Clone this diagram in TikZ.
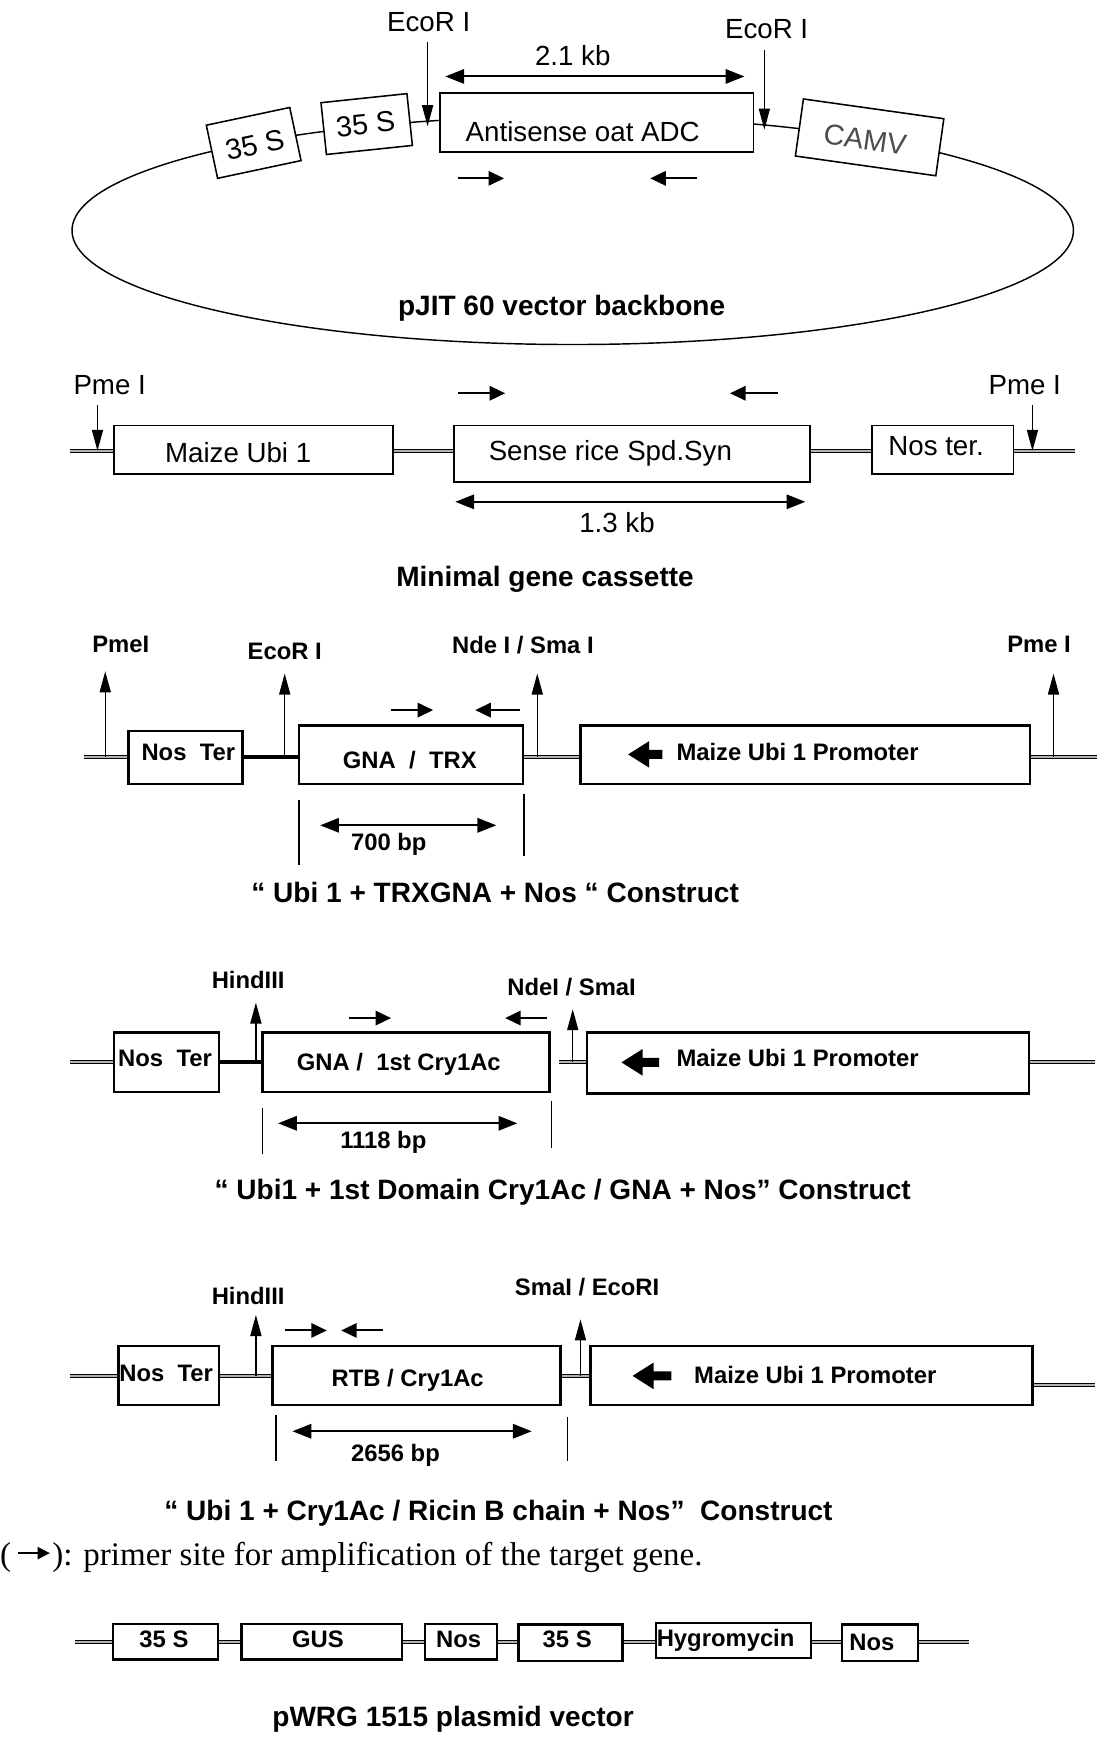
\documentclass[tikz,border=0pt]{standalone}
\usepackage{fontspec}
\setmainfont{Liberation Sans}
\newfontfamily\seriffont{Liberation Serif}
\usetikzlibrary{arrows.meta}
\begin{document}
\begin{tikzpicture}[x=1pt,y=-1pt,
  rtxt/.style={font=\fontsize{25}{28}\selectfont, inner sep=0},
  btxt/.style={font=\bfseries\fontsize{21.5}{24}\selectfont, inner sep=0},
  ttl/.style={font=\bfseries\fontsize{25.3}{28}\selectfont, inner sep=0},
  thinbox/.style={draw, line width=1.4pt, fill=white, inner sep=0},
  boldbox/.style={draw, line width=2pt, fill=white, inner sep=0},
  dna/.style={draw, line width=0.8pt, double=black!30, double distance=1.8pt},
  thickdna/.style={draw, line width=3.5pt},
  site/.style={line width=1.3pt, -{Triangle[length=19pt,width=10pt]}},
  primer/.style={line width=1.8pt, -{Triangle[length=14pt,width=13pt]}},
  span/.style={line width=1.8pt, {Triangle[length=17pt,width=13pt]}-{Triangle[length=17pt,width=13pt]}},
  bar/.style={line width=1.2pt},
]
\useasboundingbox (0,0) rectangle (991,1568);

% ---------------- Section 1: pJIT 60 ----------------
\draw[line width=1.3pt] (517,208) ellipse [x radius=452pt, y radius=103pt];
\node[thinbox, minimum width=77pt, minimum height=49pt, rotate=12] (s35a) at (229,129) {};
\node[rotate=12, font=\fontsize{26}{28}\selectfont, inner sep=0] (s35at) at (230,131) {35 S};
\node[thinbox, minimum width=78pt, minimum height=47pt, rotate=6] (s35b) at (331,112) {};
\node[rotate=6, font=\fontsize{26}{28}\selectfont, inner sep=0] (s35bt) at (330,112) {35 S};
\node[thinbox, minimum width=283pt, minimum height=53pt] (adc) at (538.5,110.5) {};
\node[rtxt] (adct) at (526,119) {Antisense oat ADC};
\node[thinbox, minimum width=128pt, minimum height=52pt, rotate=-8] (camv) at (785,124) {};
\node[rotate=-8, font=\fontsize{26}{28}\selectfont, inner sep=0, text=black!70] (camvt) at (781,126) {CAMV};
\node[rtxt] (eco1) at (387,20) {EcoR I};
\node[rtxt] (eco2) at (692,26) {EcoR I};
\coordinate (eco1a) at (386,38); \coordinate (eco1b) at (386,114);
\coordinate (eco2a) at (690,45); \coordinate (eco2b) at (690,117);
\draw[site] (eco1a) -- (eco1b);
\draw[site] (eco2a) -- (eco2b);
\node[rtxt] (kb21) at (517,50) {2.1 kb};
\coordinate (k21a) at (402,69); \coordinate (k21b) at (672,69);
\draw[span] (k21a) -- (k21b);
\draw[primer] (413,161) -- (455,161);
\draw[primer] (629,161) -- (587,161);
\node[ttl] (t1) at (507,278) {pJIT 60 vector backbone};

% ---------------- Section 2: minimal gene cassette ----------------
\coordinate (l2) at (63,407); \coordinate (r2) at (970,407);
\node[thinbox, minimum width=252pt, minimum height=44pt] (ubi2) at (229,406) {};
\node[thinbox, minimum width=321pt, minimum height=51pt] (spd2) at (570.5,409.5) {};
\node[thinbox, minimum width=128pt, minimum height=44pt] (nos2) at (851,406) {};
\draw[dna] (l2) -- (l2 -| ubi2.west);
\draw[dna] (ubi2.east |- l2) -- (spd2.west |- l2);
\draw[dna] (spd2.east |- l2) -- (nos2.west |- l2);
\draw[dna] (nos2.east |- l2) -- (r2);
\node[rtxt] (ubi2t) at (215,409) {Maize Ubi 1};
\node[rtxt] (spd2t) at (551,409) {Sense rice Spd.Syn};
\node[rtxt] (nos2t) at (845,403) {Nos ter.};
\node[rtxt] (pme2a) at (99,348) {Pme I};
\node[rtxt] (pme2b) at (925,348) {Pme I};
\coordinate (pm2a1) at (88,366); \coordinate (pm2a2) at (88,407);
\coordinate (pm2b1) at (932,366); \coordinate (pm2b2) at (932,407);
\draw[site] (pm2a1) -- (pm2a2);
\draw[site] (pm2b1) -- (pm2b2);
\draw[primer] (413,355) -- (456,355);
\draw[primer] (702,355) -- (659,355);
\coordinate (k13a) at (411,453); \coordinate (k13b) at (727,453);
\draw[span] (k13a) -- (k13b);
\node[rtxt] (kb13) at (557,472) {1.3 kb};
\node[ttl] (t2) at (492,523) {Minimal gene cassette};

% ---------------- Section 3: Ubi 1 + TRXGNA + Nos ----------------
\coordinate (l3) at (76,683); \coordinate (r3) at (990,683);
\node[boldbox, minimum width=103pt, minimum height=48pt] (nos3) at (167.5,684) {};
\node[boldbox, minimum width=202pt, minimum height=53pt] (gna3) at (371,681.5) {};
\node[boldbox, minimum width=406pt, minimum height=53pt] (ubi3) at (727,681.5) {};
\draw[dna] (l3) -- (l3 -| nos3.west);
\draw[thickdna] (nos3.east |- l3) -- (gna3.west |- l3);
\draw[dna] (gna3.east |- l3) -- (ubi3.west |- l3);
\draw[dna] (ubi3.east |- l3) -- (r3);
\node[btxt] (nos3t) at (170,679) {Nos\hspace{0.56em}Ter};
\node[btxt] (gna3t) at (370,686) {GNA\hspace{0.56em}/\hspace{0.56em}TRX};
\node[btxt] (ubi3t) at (720,679) {Maize Ubi 1 Promoter};
\fill (567,681) -- (586,669) -- (586,677) -- (598,677) -- (598,685) -- (586,685) -- (586,693) -- cycle;
\node[btxt] (pme3a) at (109,582) {PmeI};
\node[btxt] (eco3) at (257,588) {EcoR I};
\node[btxt] (nde3) at (472,582) {Nde I / Sma I};
\node[btxt] (pme3b) at (938,582) {Pme I};
\coordinate (u3a) at (95,683); \coordinate (v3a) at (95,606);
\coordinate (u3b) at (257,683); \coordinate (v3b) at (257,608);
\coordinate (u3c) at (485,683); \coordinate (v3c) at (485,608);
\coordinate (u3d) at (951,683); \coordinate (v3d) at (951,608);
\draw[site] (u3a) -- (v3a);
\draw[site] (u3b) -- (v3b);
\draw[site] (u3c) -- (v3c);
\draw[site] (u3d) -- (v3d);
\draw[primer] (353,641) -- (391,641);
\draw[primer] (469,641) -- (429,641);
\draw[bar] (270,722) -- (270,781);
\draw[bar] (473,717) -- (473,773);
\coordinate (k7a) at (289,745); \coordinate (k7b) at (448,745);
\draw[span] (k7a) -- (k7b);
\node[btxt] (bp700) at (351,762) {700 bp};
\node[ttl] (t3) at (447,806) {“ Ubi 1 + TRXGNA + Nos “ Construct};

% ---------------- Section 4: Ubi1 + 1st Domain Cry1Ac / GNA + Nos ----------------
\coordinate (l4) at (63,959); \coordinate (r4) at (988,959);
\node[boldbox, minimum width=95pt, minimum height=54pt] (nos4) at (150.5,959) {};
\node[boldbox, minimum width=259pt, minimum height=54pt] (gna4) at (366.5,959) {};
\node[boldbox, minimum width=399pt, minimum height=55pt] (ubi4) at (729.5,959.5) {};
\draw[dna] (l4) -- (l4 -| nos4.west);
\draw[thickdna] (nos4.east |- l4) -- (gna4.west |- l4);
\draw[dna] ([xshift=8pt]gna4.east |- l4) -- (ubi4.west |- l4);
\draw[dna] (ubi4.east |- l4) -- (r4);
\node[btxt] (nos4t) at (149,955) {Nos\hspace{0.56em}Ter};
\node[btxt] (gna4t) at (360,961) {GNA /\hspace{0.56em}1st Cry1Ac};
\node[btxt] (ubi4t) at (720,955) {Maize Ubi 1 Promoter};
\fill (561,959) -- (580,947) -- (580,955) -- (595,955) -- (595,963) -- (580,963) -- (580,971) -- cycle;
\node[btxt] (hin4) at (224,885) {HindIII};
\node[btxt] (nde4) at (516,891) {NdeI / SmaI};
\coordinate (u4a) at (231,959); \coordinate (v4a) at (231,905);
\coordinate (u4b) at (517,959); \coordinate (v4b) at (517,911);
\draw[site] (u4a) -- (v4a);
\draw[site] (u4b) -- (v4b);
\draw[primer] (315,919) -- (353,919);
\draw[primer] (494,919) -- (456,919);
\draw[bar] (237,1000) -- (237,1042);
\draw[bar] (498,994) -- (498,1036);
\coordinate (k11a) at (251,1014); \coordinate (k11b) at (467,1014);
\draw[span] (k11a) -- (k11b);
\node[btxt] (bp1118) at (346,1031) {1118 bp};
\node[ttl] (t4) at (508,1076) {“ Ubi1 + 1st Domain Cry1Ac / GNA + Nos” Construct};

% ---------------- Section 5: Ubi 1 + Cry1Ac / Ricin B chain + Nos ----------------
\coordinate (l5) at (63,1242); \coordinate (r5) at (988,1250);
\node[boldbox, minimum width=91pt, minimum height=53pt] (nos5) at (152.5,1241.5) {};
\node[boldbox, minimum width=260pt, minimum height=53pt] (rtb5) at (376,1241.5) {};
\node[boldbox, minimum width=399pt, minimum height=53pt] (ubi5) at (732.5,1241.5) {};
\draw[dna] (l5) -- (l5 -| nos5.west);
\draw[dna] (nos5.east |- l5) -- (rtb5.west |- l5);
\draw[dna] (rtb5.east |- l5) -- (ubi5.west |- l5);
\draw[dna] (ubi5.east |- r5) -- (r5);
\node[btxt] (nos5t) at (150,1240) {Nos\hspace{0.56em}Ter};
\node[btxt] (rtb5t) at (368,1246) {RTB / Cry1Ac};
\node[btxt] (ubi5t) at (736,1241) {Maize Ubi 1 Promoter};
\fill (571,1242) -- (590,1230) -- (590,1238) -- (606,1238) -- (606,1246) -- (590,1246) -- (590,1254) -- cycle;
\node[btxt] (hin5) at (224,1170) {HindIII};
\node[btxt] (sma5) at (530,1162) {SmaI / EcoRI};
\coordinate (u5a) at (231,1242); \coordinate (v5a) at (231,1187);
\coordinate (u5b) at (524,1242); \coordinate (v5b) at (524,1191);
\draw[site] (u5a) -- (v5a);
\draw[site] (u5b) -- (v5b);
\draw[primer] (257,1201) -- (295,1201);
\draw[primer] (346,1201) -- (308,1201);
\draw[bar] (249,1277) -- (249,1319);
\draw[bar] (512,1279) -- (512,1319);
\coordinate (k26a) at (264,1292); \coordinate (k26b) at (480,1292);
\draw[span] (k26a) -- (k26b);
\node[btxt] (bp2656) at (357,1314) {2656 bp};
\node[ttl] (t5) at (450,1366) {“ Ubi 1 + Cry1Ac / Ricin B chain + Nos”\hspace{0.28em} Construct};

% ---------------- Footnote ----------------
\node[font=\seriffont\fontsize{29.8}{32}\selectfont, inner sep=0, anchor=west] (fnl) at (0,1406) {(};
\node[font=\seriffont\fontsize{29.8}{32}\selectfont, inner sep=0, anchor=west] (fnr) at (47,1406) {): primer site for amplification of the target gene.};
\draw[line width=1.5pt, -{Triangle[length=11pt,width=11pt]}] ([xshift=6pt,yshift=4pt]fnl.east) -- ([xshift=-2pt,yshift=4pt]fnr.west);

% ---------------- Section 6: pWRG 1515 ----------------
\coordinate (l6) at (68,1482); \coordinate (r6) at (875,1482);
\node[boldbox, minimum width=95pt, minimum height=32pt] (b61) at (149.5,1482) {};
\node[boldbox, minimum width=145pt, minimum height=32pt] (b62) at (290.5,1482) {};
\node[boldbox, minimum width=65pt, minimum height=32pt] (b63) at (416,1482) {};
\node[boldbox, minimum width=94pt, minimum height=33pt] (b64) at (515,1483) {};
\node[boldbox, minimum width=140pt, minimum height=32pt] (b65) at (662,1481) {};
\node[boldbox, minimum width=69pt, minimum height=33pt] (b66) at (794.5,1483) {};
\draw[dna] (l6) -- (l6 -| b61.west);
\draw[dna] (b61.east |- l6) -- (b62.west |- l6);
\draw[dna] (b62.east |- l6) -- (b63.west |- l6);
\draw[dna] (b63.east |- l6) -- (b64.west |- l6);
\draw[dna] (b64.east |- l6) -- (b65.west |- l6);
\draw[dna] (b65.east |- l6) -- (b66.west |- l6);
\draw[dna] (b66.east |- l6) -- (r6);
\node[btxt] (b61t) at (148,1480) {35 S};
\node[btxt] (b62t) at (287,1480) {GUS};
\node[btxt] (b63t) at (414,1480) {Nos};
\node[btxt] (b64t) at (512,1480) {35 S};
\node[btxt] (b65t) at (655,1481) {Hygromycin};
\node[btxt] (b66t) at (787,1483) {Nos};
\node[ttl] (t6) at (409,1552) {pWRG 1515 plasmid vector};
\end{tikzpicture}
\end{document}
